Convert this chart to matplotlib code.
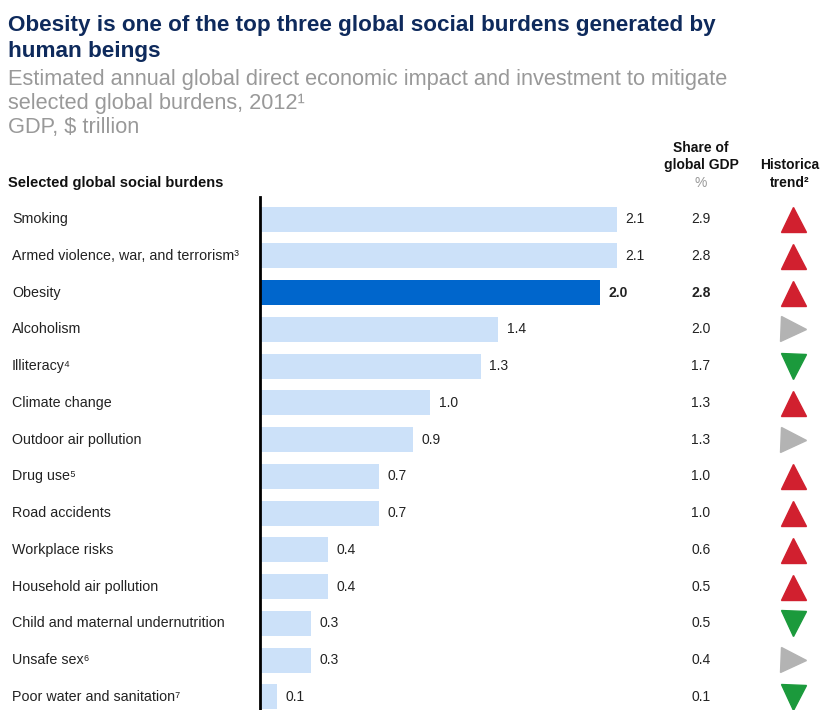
import matplotlib
matplotlib.use("Agg")
import matplotlib.pyplot as plt
import matplotlib.transforms as mtransforms

plt.rcParams['font.family'] = ['Liberation Sans', 'DejaVu Sans']
NARROW = ['Liberation Sans Narrow', 'Liberation Sans', 'DejaVu Sans']

# data
burdens = ["Smoking", "Armed violence, war, and terrorism³", "Obesity", "Alcoholism",
           "Illiteracy⁴", "Climate change", "Outdoor air pollution", "Drug use⁵",
           "Road accidents", "Workplace risks", "Household air pollution",
           "Child and maternal undernutrition", "Unsafe sex⁶", "Poor water and sanitation⁷"]
impact = [2.1, 2.1, 2.0, 1.4, 1.3, 1.0, 0.9, 0.7, 0.7, 0.4, 0.4, 0.3, 0.3, 0.1]
share_gdp = ["2.9", "2.8", "2.8", "2.0", "1.7", "1.3", "1.3", "1.0", "1.0", "0.6",
             "0.5", "0.5", "0.4", "0.1"]
trend = ["up", "up", "up", "flat", "down", "up", "flat", "up", "up", "up", "up",
         "down", "flat", "down"]

light = "#cce1f9"
dark = "#0066cc"
trend_style = {"up": ("^", "#d1202f"), "down": ("v", "#1b9a3c"), "flat": (">", "#b3b3b3")}

fig = plt.figure(figsize=(8.24, 7.10), dpi=100)
W, H = 824, 710
ax = fig.add_axes([260 / W, 0, 1 - 260 / W, (H - 197) / H])

ypos = list(range(len(burdens)))
colors = [dark if b == "Obesity" else light for b in burdens]
ax.barh(ypos, impact, height=0.68, color=colors)
ax.set_xlim(0, (W - 260) / 170)
ax.set_ylim(len(burdens) - 1 + 0.36, -0.6)
for s in ["top", "right", "bottom"]:
    ax.spines[s].set_visible(False)
ax.spines["left"].set_linewidth(2)
ax.spines["left"].set_color("black")
ax.set_xticks([])
ax.set_yticks([])

# labels left of axis, columns on the right (x in figure px, y in data)
tr = mtransforms.blended_transform_factory(
    mtransforms.Affine2D().scale(1 / W, 1) + fig.transFigure, ax.transData)
for y, name, v, sh, t in zip(ypos, burdens, impact, share_gdp, trend):
    bold = "bold" if name == "Obesity" else "normal"
    ax.text(12, y, name, transform=tr, ha="left", va="center", fontsize=10.3, color="#222222")
    ax.text(v + 0.05, y, f"{v:.1f}", ha="left", va="center", fontsize=10,
            color="#222222", fontweight=bold)
    ax.text(701, y, sh, transform=tr, ha="center", va="center", fontsize=10,
            color="#222222", fontweight=bold)
    m, c = trend_style[t]
    ax.plot([793], [y], marker=m, color=c, markersize=18, transform=tr, clip_on=False)

# header texts
def ftext(x, y, s, **kw):
    fig.text(x / W, 1 - y / H, s, **kw)

ftext(8, 25, "Obesity is one of the top three global social burdens generated by",
      fontsize=16.2, fontweight="bold", color="#0e2a5c", family=NARROW, va="center")
ftext(8, 51, "human beings", fontsize=16.2, fontweight="bold", color="#0e2a5c",
      family=NARROW, va="center")
ftext(8, 79, "Estimated annual global direct economic impact and investment to mitigate",
      fontsize=15.7, color="#999999", family=NARROW, va="center")
ftext(8, 103, "selected global burdens, 2012¹", fontsize=15.7, color="#999999",
      family=NARROW, va="center")
ftext(8, 127, "GDP, $ trillion", fontsize=15.7, color="#999999", family=NARROW, va="center")
ftext(8, 183, "Selected global social burdens", fontsize=10.5, fontweight="bold",
      color="#111111", family=NARROW, va="center")
ftext(701, 148, "Share of", fontsize=10, fontweight="bold", color="#111111",
      family=NARROW, ha="center", va="center")
ftext(701, 165, "global GDP", fontsize=10, fontweight="bold", color="#111111",
      family=NARROW, ha="center", va="center")
ftext(701, 183, "%", fontsize=10, color="#999999", family=NARROW, ha="center", va="center")
ftext(790, 165, "Historica", fontsize=10, fontweight="bold", color="#111111",
      family=NARROW, ha="center", va="center")
ftext(790, 183, "trend²", fontsize=10, fontweight="bold", color="#111111",
      family=NARROW, ha="center", va="center")

fig.savefig("out.png", dpi=100)
